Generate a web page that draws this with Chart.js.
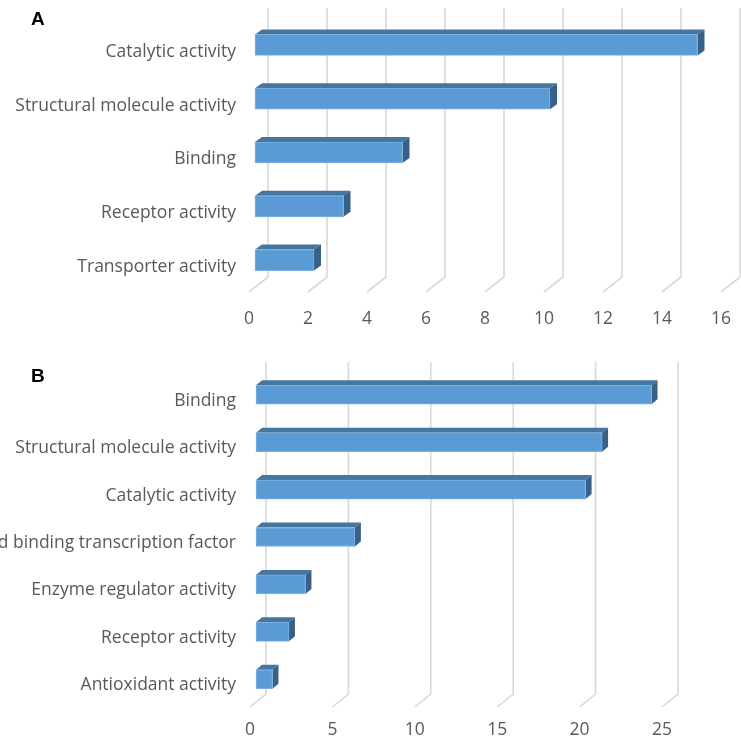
<!DOCTYPE html>
<html>
<head>
<meta charset="utf-8">
<script src="https://cdn.jsdelivr.net/npm/chart.js@4.4.1/dist/chart.umd.min.js"></script>
<style>
  html, body { margin: 0; padding: 0; background: #ffffff; }
  body { width: 741px; height: 739px; position: relative; overflow: hidden; }
  canvas { position: absolute; left: 0; }
  #chartA { top: 0; }
  #chartB { top: 340px; }
  .panel-tag { position: absolute; left: 31px; font: bold 19px "Liberation Sans", Arial, sans-serif; line-height: 1; color: #000; }
</style>
</head>
<body>
<canvas id="chartA" width="741" height="340"></canvas>
<canvas id="chartB" width="741" height="399"></canvas>
<div class="panel-tag" style="top:9px;">A</div>
<div class="panel-tag" style="top:366px;">B</div>
<script>
// Molecular function categories and counts
const categoriesA = ['Catalytic activity', 'Structural molecule activity', 'Binding', 'Receptor activity', 'Transporter activity'];
const valuesA = [15, 10, 5, 3, 2];
const axisMaxA = 16;
const axisStepA = 2;

const categoriesB = ['Binding', 'Structural molecule activity', 'Catalytic activity', 'Nucleic acid binding transcription factor', 'Enzyme regulator activity', 'Receptor activity', 'Antioxidant activity'];
const valuesB = [24, 21, 20, 6, 3, 2, 1];
const axisMaxB = 25;
const axisStepB = 5;

const TEXT_GRAY = '#595959';
const FONT_FAMILY = '"Open Sans", "Noto Sans", sans-serif';
const FONT_SIZE = 17.5;

// Draws the back-wall gridlines with their floor diagonals, plus the top and side
// faces of each bar, so the bars read as Excel-style 3-D blocks.
const depthPlugin = {
  id: 'depth3d',
  beforeDatasetsDraw(chart, args, o) {
    const { ctx, chartArea: ca, scales: { x } } = chart;
    ctx.save();
    ctx.strokeStyle = o.gridColor;
    ctx.lineWidth = o.gridWidth;
    x.ticks.forEach((t, i) => {
      const px = x.getPixelForTick(i);
      ctx.beginPath();
      ctx.moveTo(px + o.wallDx, ca.top + o.wallDy);
      ctx.lineTo(px + o.wallDx, ca.bottom + o.wallDy);
      ctx.lineTo(px, ca.bottom);
      ctx.stroke();
    });
    ctx.restore();

    ctx.save();
    ctx.translate(o.barDx, o.barDy);
    chart.getDatasetMeta(0).data.forEach(bar => {
      const p = bar.getProps(['x', 'y', 'base', 'height'], true);
      const top = p.y - p.height / 2;
      const bottom = p.y + p.height / 2;
      const ex = o.extrudeDx, ey = o.extrudeDy;
      ctx.fillStyle = o.topColor;
      ctx.beginPath();
      ctx.moveTo(p.base, top);
      ctx.lineTo(p.x, top);
      ctx.lineTo(p.x + ex, top + ey);
      ctx.lineTo(p.base + ex, top + ey);
      ctx.closePath();
      ctx.fill();
      ctx.fillStyle = o.sideColor;
      ctx.beginPath();
      ctx.moveTo(p.x, top);
      ctx.lineTo(p.x + ex, top + ey);
      ctx.lineTo(p.x + ex, bottom + ey);
      ctx.lineTo(p.x, bottom);
      ctx.closePath();
      ctx.fill();
    });
    // the translation stays in place while Chart.js paints the front faces
  },
  afterDatasetsDraw(chart) {
    chart.ctx.restore();
  }
};

function makeChart(id, labels, values, max, step, cfg) {
  return new Chart(document.getElementById(id), {
    type: 'bar',
    data: {
      labels: labels,
      datasets: [{
        data: values,
        backgroundColor: '#5B9BD5',
        borderColor: '#7FB0DF',
        borderWidth: 1,
        borderSkipped: false,
        barThickness: cfg.barThickness,
        clip: false
      }]
    },
    options: {
      indexAxis: 'y',
      responsive: false,
      animation: false,
      events: [],
      layout: { padding: { top: cfg.padTop, right: cfg.padRight, left: 0, bottom: 0 } },
      plugins: {
        legend: { display: false },
        tooltip: { enabled: false },
        depth3d: cfg.depth
      },
      scales: {
        x: {
          min: 0,
          max: max,
          border: { display: false },
          grid: { display: false, drawTicks: false },
          ticks: {
            stepSize: step,
            maxRotation: 0,
            padding: cfg.xTickPad,
            color: TEXT_GRAY,
            font: { family: FONT_FAMILY, size: FONT_SIZE }
          },
          afterFit(scale) {
            scale.height = cfg.xAxisHeight;
            scale.paddingLeft = 0;
            scale.paddingRight = 0;
          }
        },
        y: {
          border: { display: false },
          grid: { display: false, drawTicks: false },
          ticks: {
            autoSkip: false,
            padding: cfg.yTickPad,
            labelOffset: 2,
            color: TEXT_GRAY,
            font: { family: FONT_FAMILY, size: FONT_SIZE }
          },
          afterFit(scale) {
            scale.width = cfg.yAxisWidth;
            scale.paddingTop = 0;
            scale.paddingBottom = 0;
          }
        }
      }
    },
    plugins: [depthPlugin]
  });
}

makeChart('chartA', categoriesA, valuesA, axisMaxA, axisStepA, {
  barThickness: 21,
  padTop: 23,
  padRight: 20,
  yAxisWidth: 249,
  yTickPad: 13,
  xAxisHeight: 48,
  xTickPad: 17,
  depth: {
    gridColor: '#D9D9D9', gridWidth: 1.6,
    wallDx: 19, wallDy: -15,
    barDx: 6, barDy: -5,
    extrudeDx: 7, extrudeDy: -5,
    topColor: '#45769F', sideColor: '#386189'
  }
});

makeChart('chartB', categoriesB, valuesB, axisMaxB, axisStepB, {
  barThickness: 19,
  padTop: 35,
  padRight: 79,
  yAxisWidth: 250,
  yTickPad: 14,
  xAxisHeight: 32,
  xTickPad: 13,
  depth: {
    gridColor: '#D9D9D9', gridWidth: 1.6,
    wallDx: 16, wallDy: -13,
    barDx: 6, barDy: -4,
    extrudeDx: 6, extrudeDy: -5,
    topColor: '#45769F', sideColor: '#386189'
  }
});
</script>
</body>
</html>
